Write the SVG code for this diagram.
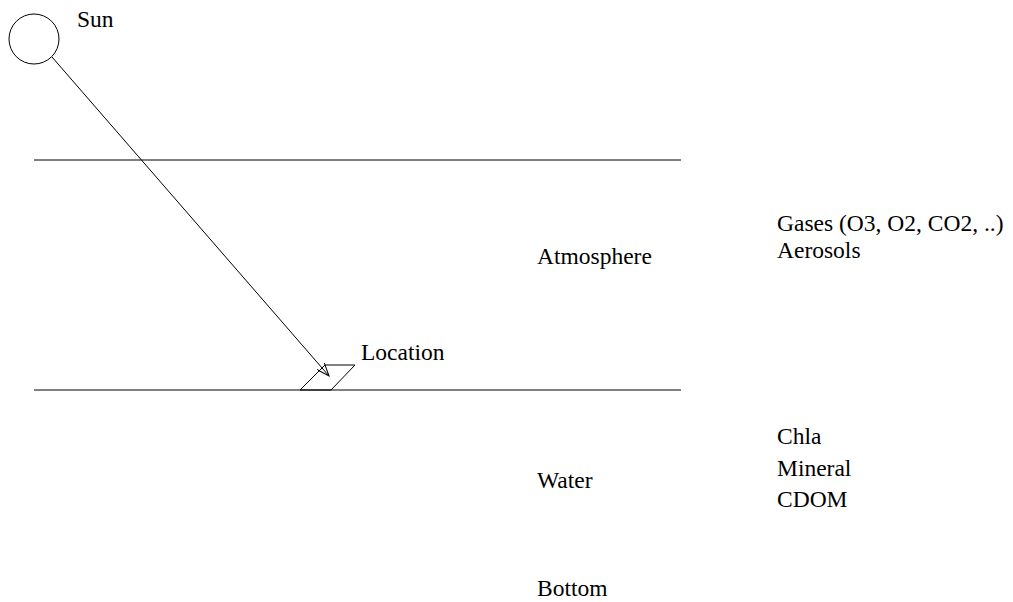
<svg xmlns="http://www.w3.org/2000/svg" width="1013" height="602" viewBox="0 0 1013 602">
<style>
.t{font-family:"Liberation Serif",serif;font-size:23.5px;fill:#000}
.s{fill:none;stroke:#000;stroke-width:1}
</style>
<defs>
<marker id="ah" markerWidth="14" markerHeight="10" refX="13" refY="5" orient="auto" markerUnits="userSpaceOnUse">
<path d="M0,0 L13,5 L0,10" fill="none" stroke="#000" stroke-width="1"/>
</marker>
</defs>
<rect width="1013" height="602" fill="#fff"/>
<g id="sun"><circle class="s" cx="34" cy="39" r="25"/><text class="t" x="77" y="27">Sun</text></g>
<g id="layers">
<line class="s" x1="34" y1="160" x2="681" y2="160"/>
<line class="s" x1="34" y1="390" x2="681" y2="390"/>
</g>
<g id="location"><path class="s" d="M300,390 L325,365 L355,365 L331,390 Z"/><text class="t" x="361" y="360">Location</text></g>
<g id="atmosphere"><text class="t" x="537" y="264">Atmosphere</text><text class="t" x="777" y="231">Gases (O3, O2, CO2, ..)</text><text class="t" x="777" y="258">Aerosols</text></g>
<g id="water"><text class="t" x="537" y="488">Water</text><text class="t" x="777" y="444">Chla</text><text class="t" x="777" y="476">Mineral</text><text class="t" x="777" y="507">CDOM</text></g>
<g id="bottom"><text class="t" x="537" y="596">Bottom</text></g>
<g id="connectors"><line class="s" x1="52" y1="57" x2="329" y2="376" marker-end="url(#ah)"/></g>
</svg>
